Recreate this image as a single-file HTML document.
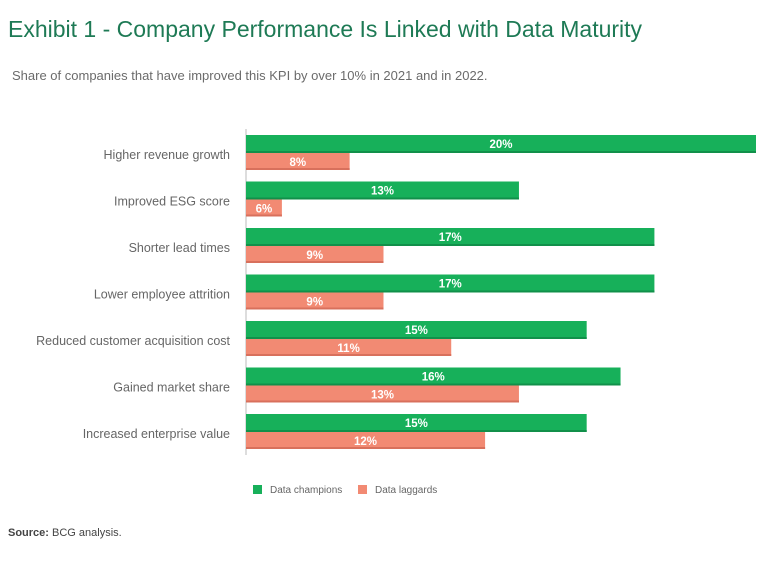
<!DOCTYPE html>
<html><head><meta charset="utf-8"><style>
html,body{margin:0;padding:0;background:#fff;}
svg{display:block;font-family:"Liberation Sans",sans-serif;}
</style></head><body>
<svg id="chart" width="768" height="570" viewBox="0 0 768 570">
<text x="8" y="37" font-size="23" fill="#1e7a55">Exhibit 1 - Company Performance Is Linked with Data Maturity</text>
<text x="12" y="80" font-size="13" fill="#6b6b6b">Share of companies that have improved this KPI by over 10% in 2021 and in 2022.</text>
<line x1="246" y1="129" x2="246" y2="455" stroke="#bbb" stroke-width="1"/>
<g id="bars"></g>
<rect x="253" y="485" width="9" height="9" fill="#17b05a"/>
<text x="270" y="493" font-size="10" fill="#666">Data champions</text>
<rect x="358" y="485" width="9" height="9" fill="#f28a73"/>
<text x="375" y="493" font-size="10" fill="#666">Data laggards</text>
<text x="8" y="536" font-size="11" fill="#444"><tspan font-weight="bold">Source:</tspan> BCG analysis.</text>
</svg>
<script>
const categories = ["Higher revenue growth","Improved ESG score","Shorter lead times","Lower employee attrition","Reduced customer acquisition cost","Gained market share","Increased enterprise value"];
const champions = [20,13,17,17,15,16,15];
const laggards = [8,6,9,9,11,13,12];
const valueLabelsChampions = ["20%","13%","17%","17%","15%","16%","15%"];
const valueLabelsLaggards = ["8%","6%","9%","9%","11%","13%","12%"];
const ns="http://www.w3.org/2000/svg";
const x0=246, xDomMin=4.94, xDomMax=20, xW=510;
function xs(v){return (v-xDomMin)/(xDomMax-xDomMin)*xW;}
function yTop(i){return 135+i*46.5;}
const g=document.getElementById('bars');
function mk(tag,attrs){const e=document.createElementNS(ns,tag);for(const k in attrs)e.setAttribute(k,attrs[k]);return e;}
categories.forEach((c,i)=>{
  const y=yTop(i);
  const t=mk('text',{x:230,y:y+24,'font-size':12.5,fill:'#666','text-anchor':'end'});
  t.textContent=c;
  
  
  g.appendChild(t);
  const wG=xs(champions[i]);
  const bg=mk('rect',{x:x0,y:y,width:wG,height:18,fill:'#17b05a'});
  
  
  g.appendChild(bg);
  g.appendChild(mk('rect',{x:x0,y:y+16,width:wG,height:2,fill:'#11904a'}));
  const lg=mk('text',{x:x0+wG/2,y:y+13,'font-size':11.5,'font-weight':'bold',fill:'#fff','text-anchor':'middle'});
  lg.textContent=valueLabelsChampions[i];
  
  
  g.appendChild(lg);
  const wL=xs(laggards[i]);
  const bl=mk('rect',{x:x0,y:y+18,width:wL,height:17,fill:'#f28a73'});
  
  
  g.appendChild(bl);
  g.appendChild(mk('rect',{x:x0,y:y+33,width:wL,height:2,fill:'#d8705c'}));
  const ll=mk('text',{x:x0+wL/2,y:y+31,'font-size':11.5,'font-weight':'bold',fill:'#fff','text-anchor':'middle'});
  ll.textContent=valueLabelsLaggards[i];
  
  
  g.appendChild(ll);
});
</script>
</body></html>
